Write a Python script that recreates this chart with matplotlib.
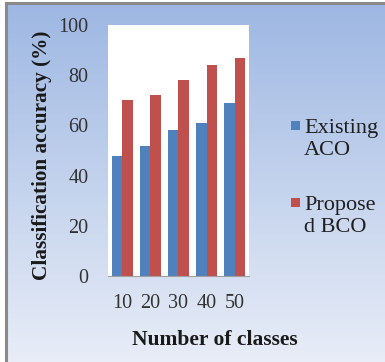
import numpy as np
import matplotlib.pyplot as plt
from matplotlib.patches import Rectangle
from matplotlib.lines import Line2D

# data
classes = ['10', '20', '30', '40', '50']
existing_aco = [48, 52, 58, 61, 69]
proposed_bco = [70, 72, 78, 84, 87]
series_names = ['Existing\nACO', 'Propose\nd BCO']
series_colors = ['#4F81BD', '#C0504D']
y_ticks = [0, 20, 40, 60, 80, 100]

plt.rcParams['font.family'] = ['Liberation Serif', 'DejaVu Serif']

fig = plt.figure(figsize=(3.85, 3.62), dpi=100, facecolor='white')

# gradient background for the chart area, with the grey frame at top/left
bg = fig.add_axes([7 / 385, 0, 1 - 7 / 385, 1 - 4 / 362], zorder=-10)
top_col = np.array([0.62, 0.72, 0.89])
bot_col = np.array([0.91, 0.93, 0.97])
t = np.linspace(0, 1, 256)[:, None]
grad = top_col * (1 - t[..., None]) + bot_col * t[..., None]
grad = np.repeat(grad, 4, axis=1)
bg.imshow(grad, aspect='auto', extent=[0, 1, 0, 1])
bg.set_axis_off()
fig.lines.append(Line2D([5.5 / 385, 5.5 / 385], [0, 1 - 3 / 362], transform=fig.transFigure,
                        color='#8a8a8a', linewidth=2.2))
fig.lines.append(Line2D([5.5 / 385, 1], [1 - 3 / 362, 1 - 3 / 362], transform=fig.transFigure,
                        color='#8a8a8a', linewidth=2.2))

ax = fig.add_axes([0.2805, 0.2376, 0.366, 0.693])
x = np.arange(len(classes))
w = 0.375
ax.bar(x - w / 2, existing_aco, w, color=series_colors[0])
ax.bar(x + w / 2, proposed_bco, w, color=series_colors[1])

ax.set_xlim(-0.5, len(classes) - 0.5)
ax.set_ylim(0, 100)
ax.set_yticks(y_ticks)
ax.set_xticks(x)
ax.set_xticklabels(classes)
ax.tick_params(axis='both', length=0, labelsize=14.5, colors='#333333')
ax.tick_params(axis='y', pad=14)
ax.tick_params(axis='x', pad=13)
for s in ['top', 'right', 'left']:
    ax.spines[s].set_visible(False)
ax.spines['bottom'].set_color('#a0a0a0')

ax.set_xlabel('Number of classes', fontsize=15.5, fontweight='bold', color='#1a1a1a')
ax.xaxis.set_label_coords(0.76, -0.215)
ax.set_ylabel('Classification accuracy (%)', fontsize=15.3, fontweight='bold', color='#1a1a1a')
ax.yaxis.set_label_coords(-0.40, 0.48)

# legend: square marker next to the first line of each wrapped label
for name, col, sq_bottom, base in zip(series_names, series_colors, [130, 207], [133, 210]):
    fig.patches.append(Rectangle((291 / 385, 1 - sq_bottom / 362), 9 / 385, 9 / 362,
                                 transform=fig.transFigure, facecolor=col, edgecolor='none'))
    for i, line in enumerate(name.split('\n')):
        fig.text(304 / 385, 1 - (base + 22 * i) / 362, line, fontsize=16, color='#1f1f1f',
                 ha='left', va='baseline')

fig.savefig('out.png', dpi=100)
